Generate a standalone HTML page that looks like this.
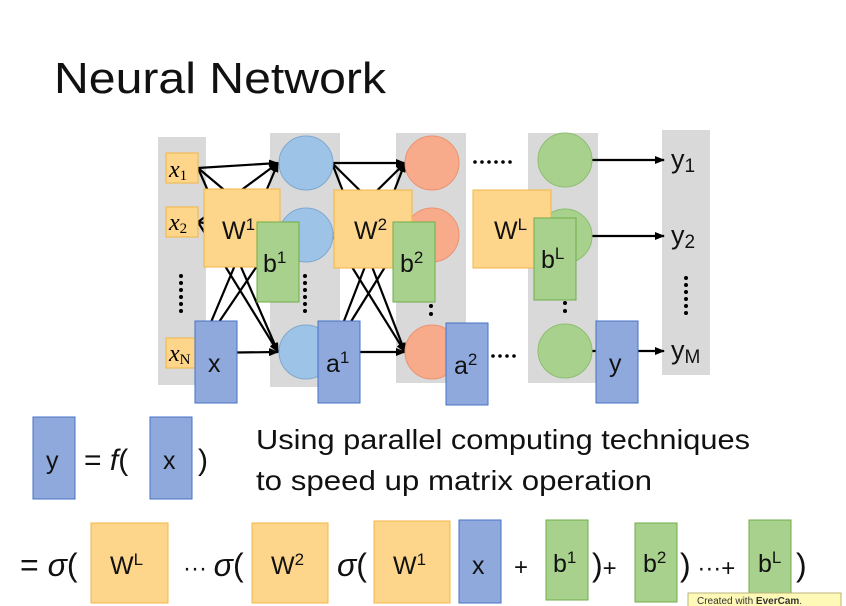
<!DOCTYPE html>
<html><head><meta charset="utf-8"><style>
html,body{margin:0;padding:0;background:#fff;}
svg{display:block;}
text{font-family:"Liberation Sans","DejaVu Sans",sans-serif;}
.s{font-family:"Liberation Serif",serif;font-style:italic;}
</style></head><body>
<svg width="846" height="606" viewBox="0 0 846 606" xmlns="http://www.w3.org/2000/svg">
<defs>
<marker id="a" markerWidth="10" markerHeight="8" refX="9" refY="4" orient="auto" markerUnits="userSpaceOnUse"><path d="M0,0 L10,4 L0,8 Z" fill="#000"/></marker>
</defs>
<rect width="846" height="606" fill="#fff"/>
<text x="54" y="93" font-size="44" fill="#111" textLength="332" lengthAdjust="spacingAndGlyphs">Neural Network</text>
<g fill="#d9d9d9">
<rect x="158" y="137" width="48" height="248"/>
<rect x="270" y="133" width="70" height="254"/>
<rect x="396" y="133" width="70" height="250"/>
<rect x="528" y="133" width="70" height="250"/>
<rect x="662" y="130" width="48" height="245"/>
</g>
<g stroke="#000" stroke-width="2.2" marker-end="url(#a)">
<line x1="198" y1="168" x2="278" y2="163"/><line x1="198" y1="168" x2="278" y2="235"/><line x1="198" y1="168" x2="278" y2="352"/>
<line x1="198" y1="222" x2="278" y2="163"/><line x1="198" y1="222" x2="278" y2="235"/><line x1="198" y1="222" x2="278" y2="352"/>
<line x1="198" y1="353" x2="278" y2="163"/><line x1="198" y1="353" x2="278" y2="235"/><line x1="198" y1="353" x2="278" y2="352"/>
<line x1="332" y1="163" x2="405" y2="163"/><line x1="332" y1="163" x2="405" y2="235"/><line x1="332" y1="163" x2="405" y2="352"/>
<line x1="332" y1="235" x2="405" y2="163"/><line x1="332" y1="235" x2="405" y2="235"/><line x1="332" y1="235" x2="405" y2="352"/>
<line x1="332" y1="352" x2="405" y2="163"/><line x1="332" y1="352" x2="405" y2="235"/><line x1="332" y1="352" x2="405" y2="352"/>
<line x1="592" y1="160" x2="664" y2="160"/><line x1="592" y1="236" x2="664" y2="236"/><line x1="592" y1="351" x2="664" y2="351"/>
</g>
<g fill="#9dc3e6" stroke="#7fa7d0"><circle cx="306" cy="163" r="27"/><circle cx="306" cy="235" r="27"/><circle cx="306" cy="352" r="27"/></g>
<g fill="#f8ab8b" stroke="#e99372"><circle cx="432" cy="163" r="27"/><circle cx="432" cy="235" r="27"/><circle cx="432" cy="352" r="27"/></g>
<g fill="#a9d18e" stroke="#8cbf6e"><circle cx="565" cy="160" r="27"/><circle cx="565" cy="236" r="27"/><circle cx="565" cy="351" r="27"/></g>
<g fill="#fdd68b" stroke="#f2b744"><rect x="166" y="153" width="32" height="30"/><rect x="166" y="207" width="32" height="30"/><rect x="166" y="338" width="32" height="30"/></g>
<text x="169" y="177" class="s" font-size="24">x<tspan font-size="15" font-style="normal" dy="3">1</tspan></text>
<text x="169" y="230" class="s" font-size="24">x<tspan font-size="15" font-style="normal" dy="3">2</tspan></text>
<text x="169" y="361" class="s" font-size="24">x<tspan font-size="15" font-style="normal" dy="3">N</tspan></text>
<g fill="#000">
<circle cx="181" cy="276" r="2"/><circle cx="181" cy="283" r="2"/><circle cx="181" cy="290" r="2"/><circle cx="181" cy="297" r="2"/><circle cx="181" cy="304" r="2"/><circle cx="181" cy="311" r="2"/>
<circle cx="305" cy="276" r="2"/><circle cx="305" cy="283" r="2"/><circle cx="305" cy="290" r="2"/><circle cx="305" cy="297" r="2"/><circle cx="305" cy="304" r="2"/><circle cx="305" cy="311" r="2"/>
<circle cx="431" cy="306" r="2"/><circle cx="431" cy="314" r="2"/>
<circle cx="565" cy="303" r="2"/><circle cx="565" cy="311" r="2"/>
<circle cx="686" cy="278" r="2"/><circle cx="686" cy="285" r="2"/><circle cx="686" cy="292" r="2"/><circle cx="686" cy="299" r="2"/><circle cx="686" cy="306" r="2"/><circle cx="686" cy="313" r="2"/>
<circle cx="475" cy="162" r="1.8"/><circle cx="482" cy="162" r="1.8"/><circle cx="489" cy="162" r="1.8"/><circle cx="496" cy="162" r="1.8"/><circle cx="503" cy="162" r="1.8"/><circle cx="510" cy="162" r="1.8"/>
<circle cx="493" cy="356" r="1.8"/><circle cx="500" cy="356" r="1.8"/><circle cx="507" cy="356" r="1.8"/><circle cx="514" cy="356" r="1.8"/>
</g>
<g font-size="27" fill="#111">
<text x="671" y="168">y<tspan font-size="19" dy="4">1</tspan></text>
<text x="671" y="244">y<tspan font-size="19" dy="4">2</tspan></text>
<text x="671" y="359">y<tspan font-size="19" dy="4">M</tspan></text>
</g>
<g stroke-width="1">
<rect x="204" y="189" width="76" height="78" fill="#fdd68b" stroke="#f2b744"/>
<rect x="334" y="190" width="78" height="78" fill="#fdd68b" stroke="#f2b744"/>
<rect x="473" y="190" width="78" height="78" fill="#fdd68b" stroke="#f2b744"/>
<rect x="257" y="222" width="42" height="80" fill="#a9d18e" stroke="#70ad47"/>
<rect x="393" y="222" width="42" height="80" fill="#a9d18e" stroke="#70ad47"/>
<rect x="534" y="218" width="42" height="82" fill="#a9d18e" stroke="#70ad47"/>
<rect x="195" y="321" width="42" height="82" fill="#8fa9dc" stroke="#4472c4"/>
<rect x="318" y="321" width="42" height="82" fill="#8fa9dc" stroke="#4472c4"/>
<rect x="446" y="323" width="42" height="82" fill="#8fa9dc" stroke="#4472c4"/>
<rect x="596" y="321" width="42" height="82" fill="#8fa9dc" stroke="#4472c4"/>
</g>
<g font-size="25" fill="#111">
<text x="222" y="239">W<tspan font-size="17" dy="-9">1</tspan></text>
<text x="354" y="239">W<tspan font-size="17" dy="-9">2</tspan></text>
<text x="494" y="239">W<tspan font-size="17" dy="-9">L</tspan></text>
<text x="263" y="272">b<tspan font-size="17" dy="-9">1</tspan></text>
<text x="400" y="272">b<tspan font-size="17" dy="-9">2</tspan></text>
<text x="541" y="268">b<tspan font-size="17" dy="-9">L</tspan></text>
<text x="208" y="372">x</text>
<text x="326" y="372">a<tspan font-size="17" dy="-9">1</tspan></text>
<text x="454" y="374">a<tspan font-size="17" dy="-9">2</tspan></text>
<text x="609" y="372">y</text>
</g>
<rect x="33" y="417" width="42" height="82" fill="#8fa9dc" stroke="#4472c4"/>
<rect x="150" y="417" width="42" height="82" fill="#8fa9dc" stroke="#4472c4"/>
<text x="46" y="469" font-size="25" fill="#111">y</text>
<text x="163" y="469" font-size="25" fill="#111">x</text>
<text x="84" y="470" font-size="30" fill="#111" font-family="Liberation Serif,serif">= <tspan font-style="italic">f</tspan>(</text>
<text x="198" y="470" font-size="30" fill="#111" font-family="Liberation Serif,serif">)</text>
<text x="256" y="449" font-size="28" fill="#111" textLength="494" lengthAdjust="spacingAndGlyphs">Using parallel computing techniques</text>
<text x="256" y="490" font-size="28" fill="#111" textLength="396" lengthAdjust="spacingAndGlyphs">to speed up matrix operation</text>
<g>
<rect x="91" y="523" width="77" height="80" fill="#fdd68b" stroke="#f2b744"/>
<rect x="252" y="523" width="76" height="80" fill="#fdd68b" stroke="#f2b744"/>
<rect x="374" y="521" width="76" height="82" fill="#fdd68b" stroke="#f2b744"/>
<rect x="459" y="520" width="42" height="83" fill="#8fa9dc" stroke="#4472c4"/>
<rect x="546" y="520" width="42" height="80" fill="#a9d18e" stroke="#70ad47"/>
<rect x="635" y="523" width="42" height="79" fill="#a9d18e" stroke="#70ad47"/>
<rect x="749" y="520" width="42" height="86" fill="#a9d18e" stroke="#70ad47"/>
</g>
<g font-size="25" fill="#111">
<text x="110" y="574">W<tspan font-size="17" dy="-9">L</tspan></text>
<text x="271" y="574">W<tspan font-size="17" dy="-9">2</tspan></text>
<text x="393" y="574">W<tspan font-size="17" dy="-9">1</tspan></text>
<text x="472" y="574">x</text>
<text x="553" y="572">b<tspan font-size="17" dy="-9">1</tspan></text>
<text x="643" y="572">b<tspan font-size="17" dy="-9">2</tspan></text>
<text x="758" y="572">b<tspan font-size="17" dy="-9">L</tspan></text>
</g>
<g font-size="32" fill="#111" font-family="Liberation Serif,serif">
<text x="20" y="576">= <tspan font-style="italic">σ</tspan>(</text>
<text x="183" y="576" font-size="24">··· <tspan font-size="32" font-style="italic">σ</tspan><tspan font-size="32">(</tspan></text>
<text x="337" y="576"><tspan font-style="italic">σ</tspan>(</text>
<text x="514" y="575" font-size="24">+</text>
<text x="592" y="576">)<tspan font-size="24">+</tspan></text>
<text x="680" y="576">)<tspan font-size="24"> ···+</tspan></text>
<text x="796" y="576">)</text>
</g>
<rect x="688" y="593" width="153" height="16" fill="#fff9b8" stroke="#b8b37a"/>
<text x="697" y="604" font-size="10" fill="#333">Created with <tspan font-weight="bold">EverCam</tspan>.</text>
</svg>
</body></html>
